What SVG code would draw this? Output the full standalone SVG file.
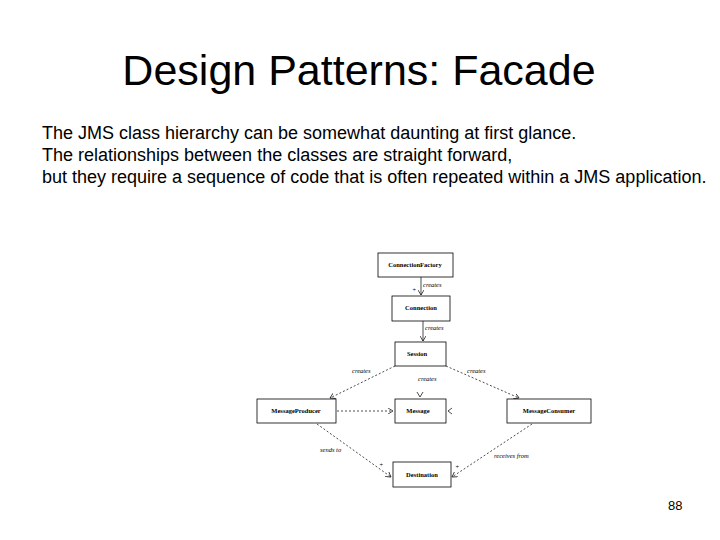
<svg xmlns="http://www.w3.org/2000/svg" width="720" height="540" viewBox="0 0 720 540">
<defs><style>
.b{fill:none;stroke:#000;stroke-width:0.8}
.n{font:bold 6.5px "Liberation Serif",serif;text-anchor:middle}
.l{font:italic 6.5px "Liberation Serif",serif}
.c{stroke:#000;stroke-width:0.7;fill:none}
.d{stroke-dasharray:2,2}
.t{font:18px "Liberation Sans",Arial,sans-serif}
</style>
<marker id="a" markerWidth="6" markerHeight="6" refX="5" refY="3" orient="auto" markerUnits="userSpaceOnUse"><path d="M0,0 L5,3 L0,6" fill="none" stroke="#000" stroke-width="0.7"/></marker></defs>
<rect width="720" height="540" fill="#fff"/>
<text x="359" y="85" text-anchor="middle" style="font:43px 'Liberation Sans',Arial,sans-serif">Design Patterns: Facade</text>
<text class="t" x="42" y="139">The JMS class hierarchy can be somewhat daunting at first glance.</text>
<text class="t" x="42" y="161">The relationships between the classes are straight forward,</text>
<text class="t" x="42" y="183">but they require a sequence of code that is often repeated within a JMS application.</text>
<g id="cf"><rect class="b" x="378" y="253" width="75" height="24"/><text class="n" x="415" y="267">ConnectionFactory</text></g>
<g id="conn"><rect class="b" x="392" y="296" width="58" height="25"/><text class="n" x="421" y="310">Connection</text></g>
<g id="sess"><rect class="b" x="395" y="342" width="51" height="24"/><text class="n" x="417" y="356">Session</text></g>
<g id="prod"><rect class="b" x="257" y="399" width="79" height="24"/><text class="n" x="296" y="413">MessageProducer</text></g>
<g id="msg"><rect class="b" x="395" y="399" width="51" height="24"/><text class="n" x="418" y="413">Message</text></g>
<g id="cons"><rect class="b" x="507" y="399" width="84" height="24"/><text class="n" x="549" y="413">MessageConsumer</text></g>
<g id="dest"><rect class="b" x="393" y="462" width="58" height="25"/><text class="n" x="422" y="477">Destination</text></g>
<g id="edges">
<path class="c" d="M421,277 L421,295" marker-end="url(#a)"/>
<path class="c" d="M423,321 L423,341" marker-end="url(#a)"/>
<path class="c d" d="M395,366 L330,398" marker-end="url(#a)"/>
<path class="c d" d="M446,366 L519,398" marker-end="url(#a)"/>
<path class="c d" d="M337,411 L393,411" marker-end="url(#a)"/>
<path class="c d" d="M317,424 L391,477" marker-end="url(#a)"/>
<path class="c d" d="M532,424 L452,477" marker-end="url(#a)"/>
<path class="c" d="M417,392 L420,397 L423,392"/>
<path class="c" d="M452,408 L448,411 L452,414"/>
<text class="l" x="423" y="287">creates</text><text class="l" x="412" y="292">+</text>
<text class="l" x="425" y="330">creates</text>
<text class="l" x="352" y="373">creates</text>
<text class="l" x="467" y="373">creates</text>
<text class="l" x="418" y="381">creates</text>
<text class="l" x="320" y="452">sends to</text><text class="l" x="379" y="467">+</text>
<text class="l" x="494" y="458">receives from</text><text class="l" x="455" y="469">+</text>
</g>
<text x="668" y="510" style="font:13px 'Liberation Sans',Arial,sans-serif">88</text>
</svg>
